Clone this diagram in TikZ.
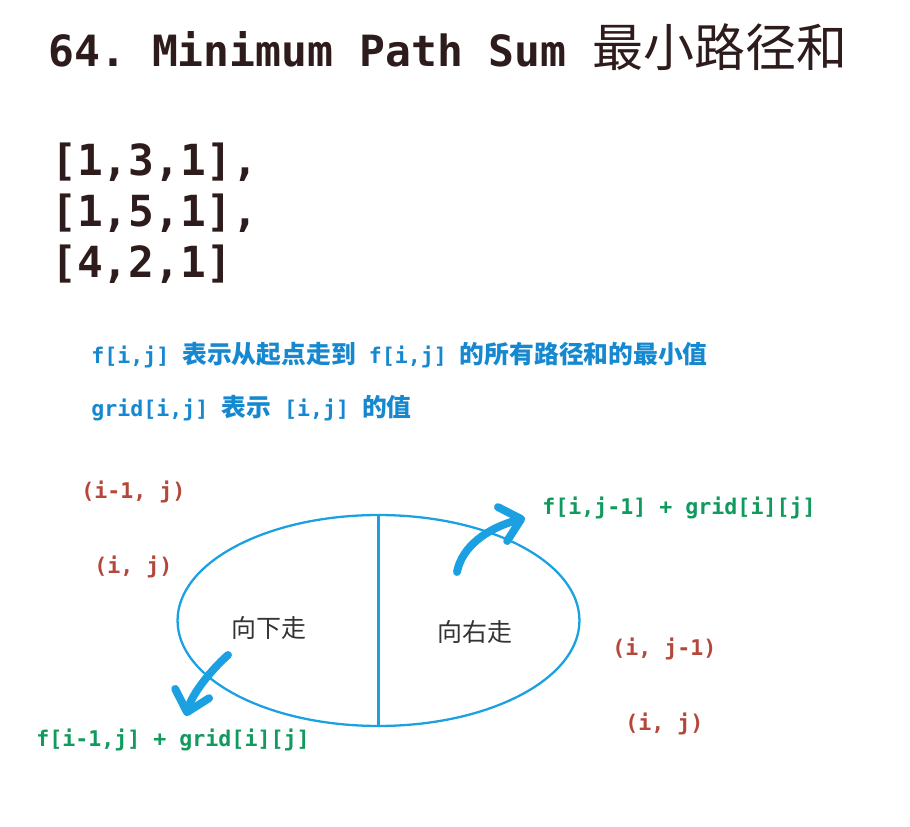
\documentclass[tikz,border=0pt]{standalone}
\usepackage{fontspec}
\setmonofont{DejaVu Sans Mono}
\newfontfamily\cjkfont{Noto Sans CJK SC}
\usetikzlibrary{arrows.meta,positioning,shapes.geometric}
\definecolor{titleink}{HTML}{2E1B1B}
\definecolor{noteblue}{HTML}{1688D0}
\definecolor{cellred}{HTML}{B4463A}
\definecolor{stepgreen}{HTML}{119A5E}
\definecolor{pathblue}{HTML}{1BA1E2}
\definecolor{labelgray}{HTML}{333333}
\newcommand{\zh}[2][14.1]{{\cjkfont\fontsize{#1}{#1}\selectfont #2}}
\tikzset{%
	heading/.style  = {anchor=base west, inner sep=0pt, text=titleink, font=\ttfamily\bfseries\fontsize{24.5}{29}\selectfont},
	gridrow/.style  = {anchor=base west, inner sep=0pt, text=titleink, font=\ttfamily\bfseries\fontsize{24.4}{29}\selectfont},
	note/.style     = {anchor=base west, inner sep=0pt, text=noteblue, font=\ttfamily\bfseries\fontsize{12.3}{15}\selectfont},
	cellpos/.style  = {anchor=west, inner sep=0pt, text=cellred, font=\ttfamily\bfseries\fontsize{12.3}{15}\selectfont},
	recur/.style    = {anchor=west, inner sep=0pt, text=stepgreen, font=\ttfamily\bfseries\fontsize{12.3}{15}\selectfont},
	half/.style     = {inner sep=0pt, text=labelgray, font=\cjkfont\fontsize{14.2}{17}\selectfont},
	region/.style   = {draw=pathblue, ellipse, line width=1.3pt, minimum width=8.04cm, minimum height=4.22cm, inner sep=0pt},
	divide/.style   = {draw=pathblue, line width=1.3pt},
	move/.style     = {draw=pathblue, line width=4.5pt, line cap=round, -{Straight Barb[length=11pt, width=20pt, round]}},
}

\begin{document}
\begin{tikzpicture}[x=0.02cm,y=-0.02cm]
	\useasboundingbox (0,0) rectangle (910,827);
	\node [heading] (title) at (48,67) {64. Minimum Path Sum\ \zh[29]{\mdseries 最小路径和}};
	
	\node [gridrow] (row1) at (51,176) {[1,3,1],};
	\node [gridrow] (row2) at (51,227) {[1,5,1],};
	\node [gridrow] (row3) at (51,278) {[4,2,1]};
	
	\node [note] (fdef) at (91,364) {f[i,j] \zh{表示从起点走到} f[i,j] \zh{的所有路径和的最小值}};
	\node [note] (gdef) at (91,417) {grid[i,j] \zh{表示} [i,j] \zh{的值}};
	
	\node [cellpos] (up) at (81,492) {(i-1, j)};
	\node [cellpos] (here) at (94,566.5) {(i, j)};
	\node [cellpos] (left) at (612,649) {(i, j-1)};
	\node [cellpos] (here2) at (625,724) {(i, j)};
	
	\node [recur] (fromleft) at (542,508) {f[i,j-1] + grid[i][j]};
	\node [recur] (fromup) at (36,740) {f[i-1,j] + grid[i][j]};
	
	\node [region] (region) at (378.5,620.5) {};
	\draw [divide] (region.north) -- (region.south);
	\node [half] (down) at (269,628) {向下走};
	\node [half] (right) at (474.6,631.7) {向右走};
	
	\coordinate (rfrom) at (457,572);
	\coordinate (rto) at (525,518);
	\coordinate (dfrom) at (228,655);
	\coordinate (dto) at (186,716);
	\draw [move] (rfrom) .. controls (462,546) and (488,528) .. (rto);
	\draw [move] (dfrom) .. controls (211,670) and (192,694) .. (dto);
\end{tikzpicture}
\end{document}
